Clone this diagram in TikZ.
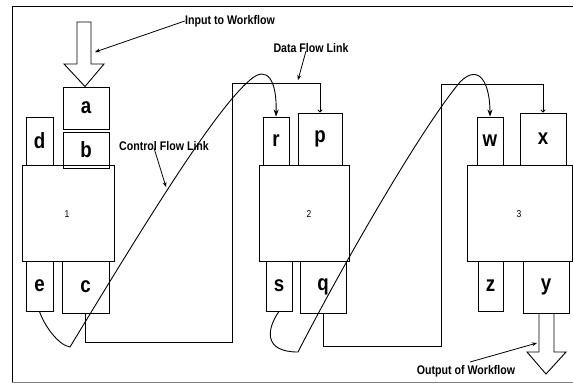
\documentclass[tikz,border=0pt]{standalone}
\usepackage{fontspec}
\setmainfont{Liberation Sans}
\newfontfamily\narrowfont[FakeStretch=0.85]{Liberation Sans}
\usetikzlibrary{arrows.meta}
\begin{document}
\begin{tikzpicture}[x=1pt,y=-1pt,line width=0.9pt,
  port/.style={draw,inner sep=0pt,font=\narrowfont\bfseries\fontsize{22}{22}\selectfont},
  block/.style={draw,inner sep=0pt},
  num/.style={inner sep=0pt,font=\narrowfont\fontsize{10}{10}\selectfont},
  note/.style={inner sep=0pt,font=\narrowfont\bfseries\fontsize{12.5}{12.5}\selectfont},
  ctrl/.style={-{Stealth[length=7pt,width=5pt]}},
  dataflow/.style={-{To[length=3pt,width=5pt]}},
  pointer/.style={line width=0.8pt,-{Stealth[length=5pt,width=4pt]}}]
\useasboundingbox (0,0) rectangle (573,384);
% frame
\draw (590,6) -- (12,6) -- (12,382);
\draw[gray] (12,382) -- (590,382);
% block 1
\node[block,minimum width=92pt,minimum height=96pt] (B1) at (68,213) {};
\node[port,minimum width=46pt,minimum height=42pt] (a) at (86,108) {a};
\node[port,minimum width=46pt,minimum height=36pt] (b) at (86,150) {b};
\node[port,minimum width=27pt,minimum height=48pt] (d) at (39.5,141) {d};
\node[port,minimum width=27pt,minimum height=50pt] (e) at (39.5,286) {e};
\node[port,minimum width=47pt,minimum height=52pt] (c) at (85.5,287) {c};
\node[num] (l1) at (67,214) {1};
% block 2
\node[block,minimum width=90pt,minimum height=96pt] (B2) at (304,213) {};
\node[port,minimum width=26pt,minimum height=48pt] (r) at (276,141) {r};
\node[port,minimum width=44pt,minimum height=52pt] (p) at (320,139) {p};
\node[port,minimum width=26pt,minimum height=50pt] (s) at (279,286) {s};
\node[port,minimum width=46pt,minimum height=52pt] (q) at (323,287) {q};
\node[num] (l2) at (309,214) {2};
% block 3
\node[block,minimum width=105pt,minimum height=96pt] (B3) at (519.5,213) {};
\node[port,minimum width=26pt,minimum height=48pt] (w) at (490,141) {w};
\node[port,minimum width=46pt,minimum height=52pt] (x) at (543,139) {x};
\node[port,minimum width=25pt,minimum height=50pt] (z) at (490.5,286) {z};
\node[port,minimum width=46pt,minimum height=52pt] (y) at (546,287) {y};
\node[num] (l3) at (519,214) {3};
% block arrows
\draw (77,22) -- (91,22) -- (91,64) -- (104,64) -- (85,86.5) -- (64,64) -- (77,64) -- cycle;
\draw (539,313) -- (539,352) -- (527,352) -- (546,374) -- (566,352) -- (554,352) -- (554,313);
% data flow links
\coordinate (k1) at (232,342);
\coordinate (k2) at (232,83);
\coordinate (k3) at (441,346);
\coordinate (k4) at (441,84);
\draw[dataflow] (c.south) |- (k1) -- (k2) -| (p.north);
\draw[dataflow] (q.south) |- (k3) -- (k4) -| (x.north);
% control flow links
\draw[ctrl] (e.south) .. controls (44,325) and (58,345) .. (70,347)
  .. controls (150,215) and (215,110) .. (250,80)
  .. controls (268,64) and (277,82) .. (r.north);
\draw[ctrl] (s.south) .. controls (266,330) and (264,352) .. (298,352)
  .. controls (340,270) and (420,130) .. (460,82)
  .. controls (480,62) and (490,85) .. (w.north);
% notes
\node[note] (n1) at (230,21) {Input to Workflow};
\node[note] (n2) at (311,48) {Data Flow Link};
\node[note] (n3) at (164,146) {Control Flow Link};
\node[note] (n4) at (466,371) {Output of Workflow};
\coordinate (t1) at (95,52);
\coordinate (t2) at (298,80);
\coordinate (t3) at (166,187);
\coordinate (t4) at (537,343);
\draw[pointer] (n1.west) -- (t1);
\draw[pointer] (306,51) -- (t2);
\draw[pointer] (154,148) -- (t3);
\draw[pointer] (470,362) -- (t4);
\end{tikzpicture}
\end{document}
